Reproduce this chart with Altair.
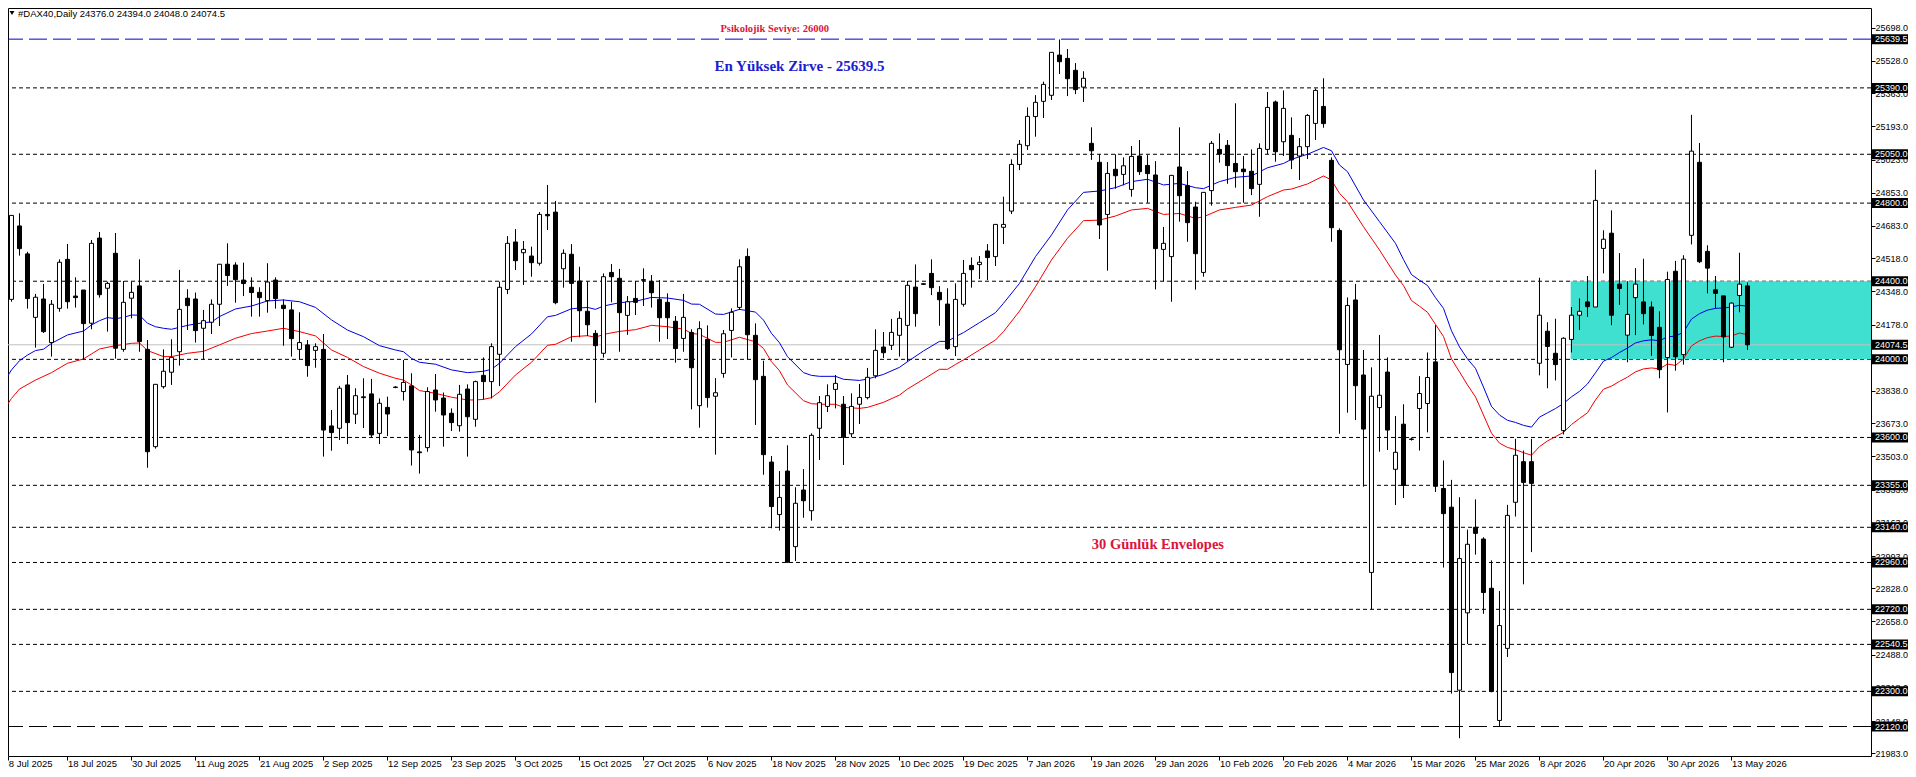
"""#DAX40 daily candles with envelopes and drawn price levels."""

import altair as alt
import pandas as pd

open_ = [
    24103, 24307, 24683, 24540, 24215, 24309, 24086, 24261, 24512, 24324,
    24355, 24185, 24621, 24364, 24543, 24051, 24313, 24376, 24051, 23553,
    23860, 23934, 24039, 24313, 24309, 24159, 24190, 24282, 24487, 24483,
    24406, 24369, 24343, 24301, 24406, 24277, 24253, 24051, 24074, 24046,
    24051, 23659, 23647, 23869, 23719, 23808, 23823, 23621, 23754, 23858,
    23835, 23864, 23526, 23548, 23843, 23802, 23724, 23660, 23848, 23693,
    23918, 23886, 24026, 24358, 24601, 24546, 24529, 24492, 24742, 24754,
    24464, 24538, 24401, 24246, 24133, 24031, 24445, 24415, 24225, 24312,
    24408, 24399, 24307, 24292, 24195, 24107, 24138, 23763, 24102, 23811,
    23928, 24148, 24266, 24527, 24123, 23913, 23474, 23205, 23428, 23041,
    23331, 23225, 23647, 23759, 23846, 23770, 23619, 23770, 23804, 23916,
    24063, 24072, 24123, 24174, 24370, 24387, 24440, 24343, 24283, 24065,
    24282, 24481, 24485, 24555, 24526, 24676, 24759, 24998, 25094, 25243,
    25321, 25352, 25558, 25541, 25480, 25394, 25106, 25009, 24742, 24973,
    24947, 24870, 25041, 24993, 24944, 24563, 24526, 24985, 24889, 24780,
    24445, 24864, 25075, 25096, 25003, 24974, 24963, 24896, 25075, 25318,
    25114, 25147, 25041, 25089, 25208, 25295, 25019, 24660, 23974, 24304,
    23920, 22909, 23753, 23935, 23437, 23668, 23592, 23748, 23774, 23987,
    23339, 23243, 22306, 22702, 23140, 23080, 22828, 22151, 22520, 23268,
    23476, 23476, 23980, 24144, 24031, 23635, 24102, 24226, 24294, 24268,
    24568, 24646, 24385, 24124, 24316, 24294, 24268, 24164, 24009, 24451,
    24024, 24635, 25009, 24553, 24356, 24325, 24062, 24327, 24376,
]
high = [
    24376, 24737, 24748, 24551, 24335, 24386, 24304, 24512, 24591, 24420,
    24355, 24611, 24652, 24398, 24647, 24401, 24398, 24512, 24099, 23872,
    24051, 24103, 24458, 24359, 24342, 24253, 24307, 24487, 24594, 24497,
    24495, 24420, 24369, 24492, 24420, 24307, 24295, 24241, 24099, 24082,
    24130, 23741, 23864, 23920, 23852, 23903, 23900, 23800, 23809, 23862,
    23997, 23929, 23613, 23857, 23925, 23830, 23749, 23869, 23872, 23891,
    24010, 24082, 24398, 24631, 24667, 24606, 24577, 24754, 24893, 24811,
    24563, 24590, 24474, 24398, 24150, 24440, 24488, 24463, 24324, 24401,
    24466, 24432, 24406, 24338, 24222, 24335, 24154, 24195, 24174, 23904,
    24150, 24261, 24512, 24568, 24184, 23993, 23505, 23428, 23560, 23345,
    23438, 23621, 23812, 23872, 23920, 23812, 23826, 23874, 23956, 24154,
    24140, 24207, 24246, 24401, 24486, 24390, 24512, 24375, 24364, 24389,
    24509, 24522, 24529, 24590, 24691, 24833, 25024, 25123, 25290, 25353,
    25422, 25572, 25638, 25589, 25517, 25475, 25188, 25050, 25010, 25050,
    25034, 25092, 25123, 25046, 25015, 24678, 24942, 25188, 24964, 24807,
    24855, 25118, 25157, 25123, 25311, 25041, 25075, 25106, 25369, 25325,
    25377, 25239, 25133, 25256, 25387, 25439, 25034, 24671, 24317, 24386,
    24048, 23959, 24125, 24010, 23710, 23770, 23600, 23914, 24035, 24175,
    23482, 23383, 23294, 23128, 23283, 23089, 22971, 22814, 23255, 23593,
    23533, 23593, 24418, 24190, 24208, 24113, 24268, 24312, 24427, 24971,
    24661, 24763, 24544, 24400, 24467, 24515, 24296, 24246, 24449, 24504,
    24533, 25252, 25108, 24584, 24427, 24325, 24292, 24546, 24394,
]
low = [
    24091, 24295, 24531, 24260, 24060, 24135, 24014, 24244, 24260, 24265,
    24000, 24154, 24316, 24142, 24004, 24039, 24210, 24039, 23445, 23543,
    23850, 23869, 23968, 24150, 24086, 24000, 24130, 24171, 24376, 24290,
    24324, 24219, 24219, 24239, 24260, 24070, 24014, 24000, 23911, 23957,
    23502, 23532, 23587, 23566, 23669, 23648, 23601, 23566, 23607, 23852,
    23789, 23456, 23415, 23527, 23732, 23553, 23633, 23630, 23502, 23655,
    23795, 23800, 23863, 24334, 24457, 24381, 24423, 24480, 24662, 24282,
    24367, 24090, 24113, 24119, 23778, 24009, 24292, 24039, 24125, 24227,
    24273, 24265, 24090, 24104, 23983, 24039, 23744, 23650, 23753, 23512,
    23906, 24010, 24253, 24000, 23664, 23409, 23135, 23123, 22960, 22967,
    23189, 23174, 23485, 23730, 23749, 23459, 23601, 23669, 23795, 23903,
    24007, 24048, 24014, 23988, 24167, 24382, 24329, 24172, 24048, 24017,
    24270, 24367, 24411, 24406, 24478, 24590, 24744, 24969, 25072, 25140,
    25236, 25328, 25461, 25348, 25358, 25318, 25021, 24616, 24454, 24874,
    24891, 24833, 24944, 24802, 24358, 24399, 24295, 24705, 24602, 24357,
    24423, 24787, 25007, 24899, 24879, 24802, 24841, 24730, 25051, 25012,
    25041, 24974, 24918, 25026, 25123, 25186, 24602, 23619, 23727, 23689,
    23348, 22720, 23527, 23536, 23254, 23290, 23584, 23533, 23626, 23321,
    22934, 22288, 22060, 22542, 23000, 22697, 22295, 22122, 22476, 23195,
    22848, 23013, 23918, 23852, 23892, 23615, 24035, 24150, 24217, 24268,
    24440, 24175, 24279, 23985, 24124, 24179, 24018, 23903, 23728, 23942,
    23973, 24588, 24493, 24338, 24261, 23985, 24058, 24241, 24048,
]
close = [
    24343, 24737, 24567, 24311, 24318, 24142, 24282, 24497, 24295, 24316,
    24183, 24594, 24331, 24389, 24057, 24292, 24343, 24091, 23527, 23872,
    23939, 24010, 24256, 24275, 24147, 24198, 24282, 24487, 24429, 24408,
    24388, 24342, 24316, 24396, 24311, 24260, 24106, 24086, 23968, 24065,
    23638, 23625, 23852, 23676, 23814, 23804, 23613, 23775, 23720, 23856,
    23882, 23536, 23522, 23835, 23792, 23715, 23676, 23821, 23706, 23886,
    23886, 24065, 24369, 24594, 24505, 24563, 24495, 24742, 24735, 24290,
    24543, 24389, 24249, 24177, 24070, 24423, 24423, 24239, 24295, 24292,
    24405, 24341, 24213, 24213, 24055, 24215, 23957, 24157, 23804, 23829,
    24131, 24241, 24474, 24126, 23896, 23512, 23246, 23293, 22961, 23263,
    23276, 23611, 23778, 23814, 23877, 23601, 23759, 23805, 23908, 24046,
    24034, 24138, 24210, 24379, 24234, 24384, 24367, 24305, 24055, 24307,
    24440, 24459, 24497, 24521, 24691, 24691, 24998, 25101, 25244, 25316,
    25408, 25572, 25524, 25437, 25381, 25439, 25068, 24688, 24952, 24940,
    24991, 25039, 24961, 24951, 24567, 24594, 24942, 24838, 24700, 24541,
    24855, 25106, 25051, 24992, 24961, 24961, 24874, 25080, 25290, 25063,
    25285, 25021, 25089, 25249, 25377, 25207, 24674, 24049, 24276, 23865,
    23643, 23811, 23816, 23638, 23524, 23354, 23590, 23825, 23907, 23350,
    23210, 22396, 22980, 23053, 23109, 22806, 22299, 22637, 23201, 23509,
    23370, 23365, 24226, 24066, 23973, 24108, 24226, 24246, 24270, 24814,
    24615, 24226, 24363, 24230, 24385, 24234, 24122, 23947, 24409, 24013,
    24513, 25066, 24500, 24467, 24338, 24115, 24288, 24385, 24074.5,
]

blue_idx = [
    0, 1, 2, 3, 4, 5, 6, 8, 10, 11, 12, 13, 14, 15, 16, 17, 18, 19, 20, 21,
    23, 25, 26, 27, 29, 31, 33, 35, 37, 39, 41, 43, 45, 47, 49, 50, 51, 52,
    54, 56, 58, 59, 60, 61, 62, 64, 66, 68, 69, 71, 73, 74, 75, 77, 79, 81,
    83, 85, 86, 87, 89, 90, 92, 94, 95, 96, 97, 98, 100, 101, 102, 104, 105,
    107, 108, 110, 112, 113, 115, 117, 118, 119, 120, 122, 124, 125, 127,
    129, 131, 133, 135, 137, 139, 141, 143, 145, 147, 149, 150, 152, 154,
    156, 158, 160, 161, 163, 165, 166, 167, 168, 170, 172, 174, 175, 176,
    177, 178, 179, 180, 181, 182, 183, 184, 185, 186, 187, 188, 189, 190,
    191, 192, 193, 194, 195, 196, 197, 198, 199, 200, 201, 202, 203, 204,
    205, 206, 207, 208, 209, 210, 211, 212, 213, 214, 215, 216, 217, 218,
]
blue_val = [
    23881, 23946, 23993, 24022, 24045, 24052, 24082, 24125, 24145, 24176,
    24198, 24214, 24208, 24215, 24227, 24226, 24185, 24167, 24159, 24154,
    24174, 24188, 24191, 24219, 24258, 24273, 24299, 24304, 24295, 24266,
    24202, 24150, 24116, 24070, 24048, 24039, 24005, 23985, 23975, 23946,
    23932, 23935, 23939, 23949, 23980, 24065, 24130, 24218, 24225, 24259,
    24266, 24256, 24273, 24290, 24297, 24317, 24314, 24302, 24283, 24282,
    24232, 24230, 24256, 24242, 24201, 24133, 24085, 24014, 23932, 23918,
    23913, 23913, 23898, 23892, 23899, 23923, 23959, 23988, 24043, 24092,
    24092, 24116, 24137, 24188, 24239, 24287, 24389, 24526, 24637, 24765,
    24855, 24862, 24879, 24910, 24922, 24893, 24901, 24879, 24874, 24910,
    24932, 24939, 24981, 25003, 25024, 25050, 25085, 25068, 24995, 24961,
    24816, 24705, 24594, 24511, 24434, 24405, 24378, 24316, 24261, 24146,
    24064, 24002, 23954, 23858, 23759, 23715, 23688, 23677, 23662, 23653,
    23704, 23726, 23748, 23774, 23808, 23836, 23874, 23931, 23991, 24009,
    24035, 24058, 24084, 24095, 24100, 24095, 24115, 24119, 24139, 24206,
    24234, 24252, 24261, 24263, 24268, 24277, 24272,
]
red_idx = [
    0, 1, 2, 4, 6, 8, 10, 12, 14, 16, 17, 18, 20, 21, 23, 25, 27, 29, 31, 33,
    35, 37, 39, 41, 43, 45, 47, 49, 50, 51, 52, 54, 56, 58, 59, 60, 61, 62,
    64, 66, 68, 69, 71, 73, 74, 75, 77, 79, 81, 83, 85, 86, 87, 89, 90, 92,
    94, 95, 96, 97, 98, 100, 101, 102, 104, 105, 107, 108, 110, 112, 113,
    115, 117, 118, 119, 120, 122, 124, 125, 127, 129, 131, 133, 135, 137,
    139, 141, 143, 145, 147, 149, 150, 152, 154, 156, 158, 160, 161, 163,
    165, 166, 167, 168, 170, 172, 174, 175, 176, 177, 178, 179, 180, 181,
    182, 183, 184, 185, 186, 187, 188, 189, 190, 191, 192, 193, 194, 195,
    196, 197, 198, 199, 200, 201, 202, 203, 204, 205, 206, 207, 208, 209,
    210, 211, 212, 213, 214, 215, 216, 217, 218,
]
red_val = [
    23737, 23800, 23848, 23894, 23932, 23980, 24002, 24053, 24070, 24082,
    24084, 24045, 24014, 24014, 24031, 24041, 24074, 24108, 24132, 24145,
    24159, 24142, 24120, 24048, 24010, 23963, 23929, 23903, 23894, 23869,
    23840, 23826, 23806, 23792, 23792, 23795, 23804, 23834, 23920, 23985,
    24072, 24077, 24116, 24121, 24113, 24128, 24143, 24152, 24174, 24167,
    24155, 24133, 24128, 24087, 24087, 24113, 24090, 24056, 23988, 23942,
    23869, 23788, 23773, 23770, 23770, 23754, 23749, 23754, 23780, 23817,
    23848, 23898, 23949, 23949, 23974, 23997, 24048, 24099, 24142, 24247,
    24372, 24509, 24620, 24710, 24713, 24734, 24765, 24773, 24742, 24747,
    24722, 24730, 24765, 24778, 24790, 24833, 24867, 24872, 24898, 24939,
    24918, 24850, 24807, 24679, 24560, 24432, 24378, 24301, 24272, 24241,
    24179, 24117, 24002, 23936, 23869, 23808, 23715, 23622, 23571, 23549,
    23538, 23522, 23509, 23553, 23582, 23604, 23626, 23666, 23697, 23726,
    23792, 23847, 23863, 23887, 23909, 23936, 23951, 23956, 23951, 23976,
    23969, 24002, 24069, 24095, 24111, 24119, 24117, 24119, 24135, 24126,
]

dash_levels = [25390, 25050, 24800, 24400, 24000, 23600, 23355, 23140, 22960, 22720, 22540.5, 22300]
top_level = [25639.5]
bottom_level = [22120]
last_price = [24074.5]
tag_levels = top_level + dash_levels[:4] + last_price + dash_levels[4:] + bottom_level

price_ticks = [
    25698, 25528, 25363, 25193, 25023, 24853, 24683, 24518, 24348, 24178, 24008, 23838,
    23673, 23503, 23333, 23163, 22993, 22828, 22658, 22488, 22318, 22148, 21983,
]
date_labels = [
    "8 Jul 2025", "18 Jul 2025", "30 Jul 2025", "11 Aug 2025", "21 Aug 2025", "2 Sep 2025",
    "12 Sep 2025", "23 Sep 2025", "3 Oct 2025", "15 Oct 2025", "27 Oct 2025", "6 Nov 2025",
    "18 Nov 2025", "28 Nov 2025", "10 Dec 2025", "19 Dec 2025", "7 Jan 2026", "19 Jan 2026",
    "29 Jan 2026", "10 Feb 2026", "20 Feb 2026", "4 Mar 2026", "15 Mar 2026", "25 Mar 2026",
    "8 Apr 2026", "20 Apr 2026", "30 Apr 2026", "13 May 2026",
]
date_ticks = [0.6] + [8 * n for n in range(1, len(date_labels))]

zone_start = 195.9
zone_low = 24000
zone_high = 24400

notes = ["Psikolojik Seviye: 26000", "En Yüksek Zirve - 25639.5", "30 Günlük Envelopes"]
note_x = [96.4, 99.5, 144.3]
note_y = [25691, 25502, 23049]
header = "#DAX40,Daily  24376.0 24394.0 24048.0 24074.5"

X_MIN, X_MAX = 0.5625, 233.44
Y_MIN, Y_MAX = 21969, 25799
FONT = "Liberation Sans"

# padding=0: bars would otherwise widen the continuous x scale
x_scale = alt.Scale(domain=[X_MIN, X_MAX], nice=False, zero=False, padding=0)
y_scale = alt.Scale(domain=[Y_MIN, Y_MAX], nice=False, zero=False)
x_axis = alt.Axis(
    orient="bottom", values=date_ticks, tickSize=4, tickColor="black", domain=False, grid=False, title=None,
    labelExpr=f"{date_labels}[round(datum.value / 8)]", labelAlign="left", labelFont=FONT,
    labelFontSize=9.5, labelColor="black", labelPadding=-2, labelOverlap=False, labelBound=False,
)
y_axis = alt.Axis(
    orient="right", values=price_ticks, format=".1f", tickSize=4, tickColor="black", domain=False,
    grid=False, title=None, labelFont=FONT, labelFontSize=9, labelColor="black", labelPadding=0,
    labelOverlap=False,
)


def x_enc(field="i"):
    return alt.X(f"{field}:Q", scale=x_scale, axis=x_axis)


def y_enc(field="p"):
    return alt.Y(f"{field}:Q", scale=y_scale, axis=y_axis)


candles = pd.DataFrame({"i": range(len(open_)), "open": open_, "high": high, "low": low, "close": close})
up = candles[candles["close"] >= candles["open"]]
down = candles[candles["close"] < candles["open"]]


def level_rule(levels, color, dash=None):
    """One horizontal rule per price level."""
    mark = {"color": color, "strokeWidth": 1}
    if dash:
        mark["strokeDash"] = dash
    return alt.Chart(pd.DataFrame({"p": levels})).mark_rule(**mark).encode(y=y_enc())


levels_dash = level_rule(dash_levels, "black", [4, 3])
levels_blue = level_rule(top_level, "#0000c8", [18, 6])
levels_bottom = level_rule(bottom_level, "black", [18, 6])

zone = (
    alt.Chart(pd.DataFrame({"a": [zone_start], "b": [X_MAX], "lo": [zone_low], "hi": [zone_high]}))
    .mark_rect(color="#40e0d0")
    .encode(x=x_enc("a"), x2="b:Q", y=y_enc("lo"), y2="hi:Q")
)
last_line = level_rule(last_price, "#c0c0c0")

blue_line = (
    alt.Chart(pd.DataFrame({"i": blue_idx, "v": blue_val}))
    .mark_line(color="#0000dc", strokeWidth=1)
    .encode(x=x_enc(), y=y_enc("v"))
)
red_line = (
    alt.Chart(pd.DataFrame({"i": red_idx, "v": red_val}))
    .mark_line(color="#f00000", strokeWidth=1)
    .encode(x=x_enc(), y=y_enc("v"))
)

wicks = alt.Chart(candles).mark_rule(color="black", strokeWidth=1).encode(x=x_enc(), y=y_enc("low"), y2="high:Q")
up_bodies = (
    alt.Chart(up)
    .mark_bar(size=4, color="white", stroke="black", strokeWidth=1)
    .encode(x=x_enc(), y=y_enc("open"), y2="close:Q")
)
down_bodies = (
    alt.Chart(down)
    .mark_bar(size=4, color="black", stroke="black", strokeWidth=1)
    .encode(x=x_enc(), y=y_enc("open"), y2="close:Q")
)

note_table = pd.DataFrame({"i": note_x, "p": note_y, "t": notes})
note_sizes = [10.5, 15, 14.5]
note_colors = ["#dc143c", "#1c1cd0", "#dc143c"]
note_layers = [
    alt.Chart(note_table.iloc[[n]])
    .mark_text(font="Liberation Serif", fontWeight="bold", fontSize=note_sizes[n], color=note_colors[n])
    .encode(x=x_enc(), y=y_enc(), text="t:N")
    for n in range(len(notes))
]

header_text = (
    alt.Chart(pd.DataFrame({"t": [header]}))
    .mark_text(align="left", font=FONT, fontSize=9.5, color="black")
    .encode(x=alt.value(10), y=alt.value(6), text="t:N")
)
header_arrow = (
    alt.Chart(pd.DataFrame({"t": [header]}))
    .mark_point(shape="triangle-down", filled=True, color="black", size=24, opacity=1)
    .encode(x=alt.value(4), y=alt.value(5))
)

tag_table = pd.DataFrame({"p": tag_levels})
tags = (
    alt.Chart(tag_table)
    .mark_rule(color="black", strokeWidth=10)
    .encode(x=alt.value(1864), x2=alt.value(1900), y=y_enc())
)
tag_text = (
    alt.Chart(tag_table)
    .mark_text(align="left", font=FONT, fontSize=9, color="white")
    .encode(x=alt.value(1867), y=y_enc(), text=alt.Text("p:Q", format=".1f"))
)

chart = (
    alt.layer(
        levels_dash, levels_blue, levels_bottom, zone, last_line, blue_line, red_line,
        wicks, up_bodies, down_bodies, *note_layers, header_arrow, header_text, tags, tag_text,
    )
    .properties(
        width=1863,
        height=748,
        padding={"left": 0, "top": 0, "right": 37, "bottom": 13},
        autosize=alt.AutoSizeParams(type="none"),
        background="white",
    )
    .configure_view(stroke="black", strokeWidth=1)
)

chart.save("out.html", embed_options={"renderer": "svg", "actions": False})
